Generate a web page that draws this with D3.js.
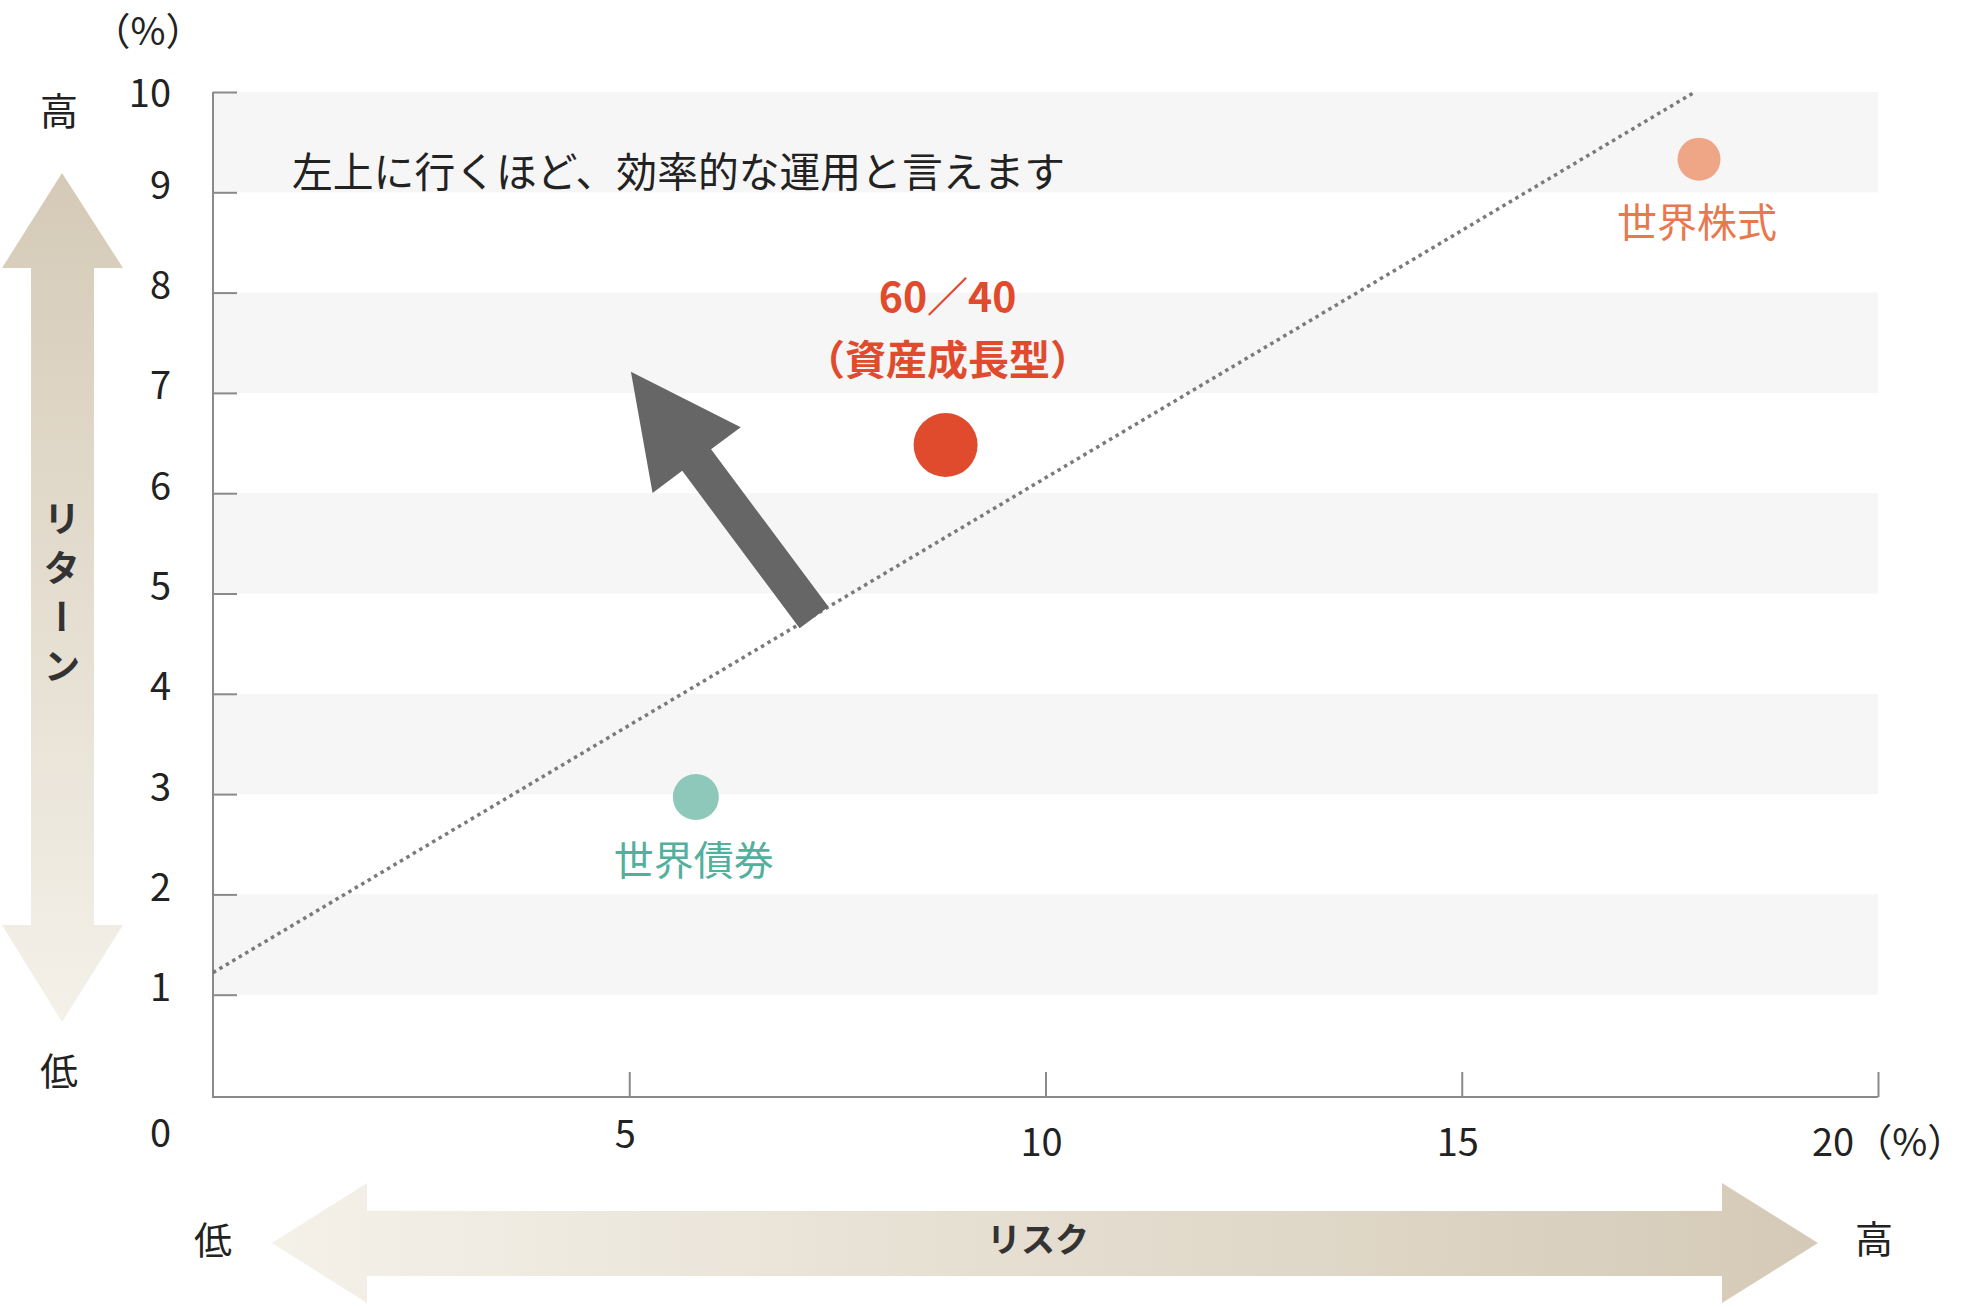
<!DOCTYPE html>
<html lang="ja">
<head>
<meta charset="utf-8">
<script src="https://cdn.jsdelivr.net/npm/d3@7"></script>
<style>
  body { margin: 0; background: #fff; }
  text { font-family: "Noto Sans CJK JP", "Noto Sans", sans-serif; }
</style>
</head>
<body>
<div id="chart"></div>
<script>
const width = 1964
const height = 1307

// data
const riskTicks = [5, 10, 15, 20]
const returnTicks = [1, 2, 3, 4, 5, 6, 7, 8, 9, 10]
const bandStarts = [1, 3, 5, 7, 9]
const assetNames = ["世界債券", "60／40", "世界株式"]
const assetRisk = [5.8, 8.8, 17.85]
const assetReturn = [2.97, 6.48, 9.33]
const lineRisk = [0, 17.8]
const lineReturn = [1.22, 10]
const arrowRisk = [7.22, 5.02]
const arrowReturn = [4.76, 7.21]
const note = "左上に行くほど、効率的な運用と言えます"
const unit = "（%）"

const styles = {
  "世界債券": { r: 23, fill: "#8ec8bb", text: "#52b09d", labels: ["世界債券"], dy: [61], bold: false },
  "60／40": { r: 32, fill: "#e04b2e", text: "#e04b2e", labels: ["60／40", "（資産成長型）"], dy: [-151, -88], bold: true },
  "世界株式": { r: 21.5, fill: "#eea686", text: "#e9784f", labels: ["世界株式"], dy: [61], bold: false }
}

const svg = d3.select("div#chart").append("svg").attr("width", width).attr("height", height)

const x = d3.scaleLinear().domain([0, 20]).range([213, 1878])
const y = d3.scaleLinear().domain([0, 10]).range([1095, 92])

const defs = svg.append("defs")
const vg = defs.append("linearGradient").attr("id", "vgrad").attr("x1", 0).attr("y1", 0).attr("x2", 0).attr("y2", 1)
vg.append("stop").attr("offset", "0%").attr("stop-color", "#d5cab7")
vg.append("stop").attr("offset", "100%").attr("stop-color", "#f4f1e9")
const hg = defs.append("linearGradient").attr("id", "hgrad").attr("x1", 0).attr("y1", 0).attr("x2", 1).attr("y2", 0)
hg.append("stop").attr("offset", "0%").attr("stop-color", "#f4f1e9")
hg.append("stop").attr("offset", "100%").attr("stop-color", "#d5cab7")

// bands
svg.append("g").selectAll("rect").data(bandStarts).enter().append("rect")
  .attr("x", x(0)).attr("width", x(20) - x(0))
  .attr("y", d => y(d + 1)).attr("height", d => y(d) - y(d + 1))
  .attr("fill", "#f6f6f6")

// axes
const axisColor = "#8a8a8a"
const yAxis = svg.append("g").attr("transform", `translate(${x(0)},0)`)
  .call(d3.axisRight(y).tickValues(returnTicks).tickSize(24).tickFormat("").tickSizeOuter(0))
const xAxis = svg.append("g").attr("transform", `translate(0,${y(0) + 2})`)
  .call(d3.axisTop(x).tickValues(riskTicks).tickSize(25).tickFormat("").tickSizeOuter(0))
;[xAxis, yAxis].forEach(g => {
  g.select(".domain").attr("stroke", axisColor).attr("stroke-width", 2)
  g.selectAll(".tick line").attr("stroke", axisColor).attr("stroke-width", 2)
})
xAxis.select(".domain").attr("d", `M${x(0)},0H${x(20)}`)
yAxis.select(".domain").attr("d", `M0,${y(10)}V${y(0) + 3}`)

// tick labels
svg.append("g").selectAll("text").data(returnTicks).enter().append("text")
  .attr("x", 171).attr("y", d => y(d) - (d === 10 ? 2 : 10))
  .attr("text-anchor", "end").attr("dominant-baseline", "central")
  .attr("font-size", 38).attr("fill", "#222")
  .text(d => d)
svg.append("text").attr("x", 171).attr("y", 1130)
  .attr("text-anchor", "end").attr("dominant-baseline", "central")
  .attr("font-size", 38).attr("fill", "#222").text("0")
svg.append("g").selectAll("text").data(riskTicks).enter().append("text")
  .attr("x", d => d === 20 ? x(d) - 66 : x(d) - 4).attr("y", d => d === 5 ? 1131 : 1139)
  .attr("text-anchor", d => d === 20 ? "start" : "middle").attr("dominant-baseline", "central")
  .attr("font-size", 38).attr("fill", "#222")
  .text(d => d === 20 ? d + unit : d)
svg.append("text").attr("x", 148).attr("y", 28)
  .attr("text-anchor", "middle").attr("dominant-baseline", "central")
  .attr("font-size", 38).attr("fill", "#222").text(unit)

// note
svg.append("text").attr("x", 292).attr("y", 169)
  .attr("dominant-baseline", "central")
  .attr("font-size", 40.8).attr("fill", "#222").text(note)

// efficient line
svg.append("line")
  .attr("x1", x(lineRisk[0])).attr("y1", y(lineReturn[0]))
  .attr("x2", x(lineRisk[1])).attr("y2", y(lineReturn[1]))
  .attr("stroke", "#7a7a7a").attr("stroke-width", 3.5).attr("stroke-dasharray", "3.5,4")

// big arrow
{
  const tx = x(arrowRisk[0]), ty = y(arrowReturn[0])
  const hx = x(arrowRisk[1]), hy = y(arrowReturn[1])
  const len = Math.hypot(hx - tx, hy - ty)
  const ang = Math.atan2(hy - ty, hx - tx) * 180 / Math.PI
  const sw = 18, hw = 55, hl = 110
  const pts = [[0, -sw], [len - hl, -sw], [len - hl, -hw], [len, 0], [len - hl, hw], [len - hl, sw], [0, sw]]
  svg.append("polygon")
    .attr("points", pts.map(p => p.join(",")).join(" "))
    .attr("transform", `translate(${tx},${ty}) rotate(${ang})`)
    .attr("fill", "#666")
}

// points
const pts = svg.append("g")
pts.selectAll("circle").data(assetNames).enter().append("circle")
  .attr("cx", (d, i) => x(assetRisk[i])).attr("cy", (d, i) => y(assetReturn[i]))
  .attr("r", d => styles[d].r).attr("fill", d => styles[d].fill)
assetNames.forEach((name, i) => {
  const s = styles[name]
  s.labels.forEach((lab, j) => {
    svg.append("text")
      .attr("x", x(assetRisk[i]) + (s.bold ? 2 : -2)).attr("y", y(assetReturn[i]) + s.dy[j])
      .attr("text-anchor", "middle").attr("dominant-baseline", "central")
      .attr("font-size", s.bold ? 41 : 40).attr("font-weight", s.bold ? 700 : 400)
      .attr("fill", s.text).text(lab)
  })
})

// vertical double arrow (return)
svg.append("polygon")
  .attr("points", [[62, 173], [123, 268], [94, 268], [94, 925], [123, 925], [62, 1022], [2, 925], [31, 925], [31, 268], [2, 268]].map(p => p.join(",")).join(" "))
  .attr("fill", "url(#vgrad)")
svg.append("text").attr("x", 62).attr("y", 598)
  .attr("text-anchor", "middle")
  .style("writing-mode", "vertical-rl").style("text-orientation", "upright")
  .attr("font-size", 37).attr("font-weight", 700).attr("letter-spacing", 12)
  .attr("fill", "#333").text("リターン")
svg.append("text").attr("x", 59).attr("y", 108).attr("text-anchor", "middle").attr("dominant-baseline", "central")
  .attr("font-size", 38).attr("fill", "#222").text("高")
svg.append("text").attr("x", 59).attr("y", 1068).attr("text-anchor", "middle").attr("dominant-baseline", "central")
  .attr("font-size", 38).attr("fill", "#222").text("低")

// horizontal double arrow (risk)
svg.append("polygon")
  .attr("points", [[272, 1243], [367, 1183], [367, 1211], [1722, 1211], [1722, 1183], [1818, 1243], [1722, 1303], [1722, 1276], [367, 1276], [367, 1303]].map(p => p.join(",")).join(" "))
  .attr("fill", "url(#hgrad)")
svg.append("text").attr("x", 1038).attr("y", 1237).attr("text-anchor", "middle").attr("dominant-baseline", "central")
  .attr("font-size", 34).attr("font-weight", 700).attr("fill", "#333").text("リスク")
svg.append("text").attr("x", 213).attr("y", 1237).attr("text-anchor", "middle").attr("dominant-baseline", "central")
  .attr("font-size", 38).attr("fill", "#222").text("低")
svg.append("text").attr("x", 1874).attr("y", 1236).attr("text-anchor", "middle").attr("dominant-baseline", "central")
  .attr("font-size", 38).attr("fill", "#222").text("高")
</script>
</body>
</html>
